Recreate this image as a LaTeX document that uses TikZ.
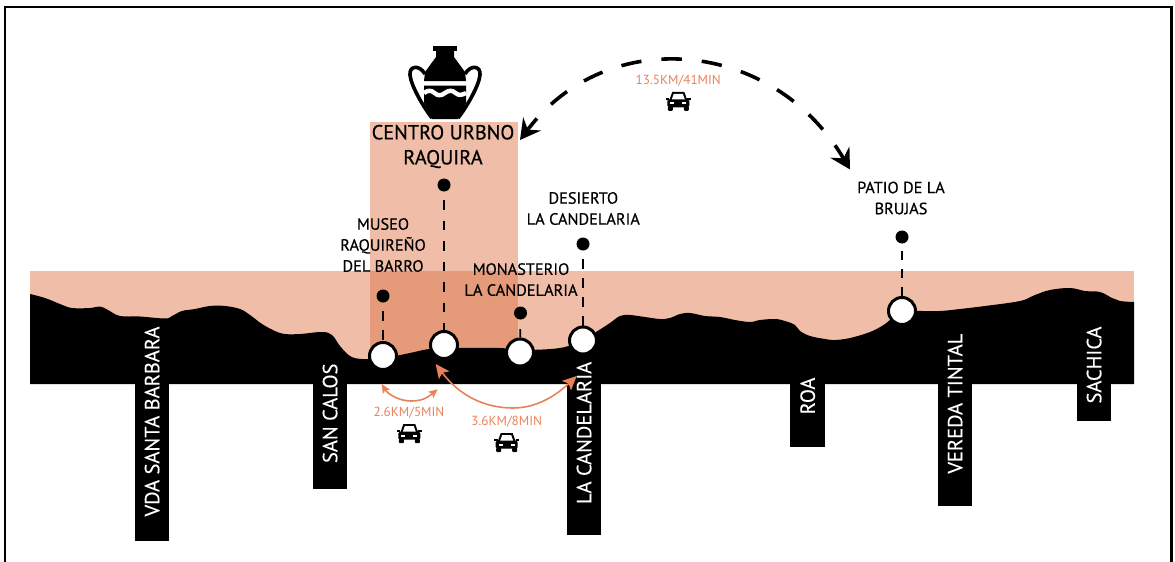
\documentclass[tikz,border=0pt]{standalone}
\usepackage{fontspec}
\setmainfont{PT Sans}
\newfontfamily\heavyfont[FakeBold=0.5]{PT Sans}
\newfontfamily\mediumfont[FakeBold=0.25]{PT Sans}
\usepackage{tikz}
\usetikzlibrary{arrows.meta}
\definecolor{lightsalmon}{RGB}{239,189,168}
\definecolor{darksalmon}{RGB}{229,154,122}
\definecolor{routeorange}{RGB}{232,130,90}
\tikzstyle{stop}=[circle, draw=black, line width=3pt, fill=white, minimum size=27pt, inner sep=0pt]
\tikzstyle{site}=[circle, fill=black, minimum size=13pt, inner sep=0pt]
\tikzstyle{drop}=[line width=1.7pt, dash pattern=on 9.5pt off 9.5pt, dash phase=10.5pt]
\tikzstyle{place}=[align=center, inner sep=0pt, font=\heavyfont\fontsize{16.3}{21}\selectfont]
\tikzstyle{village}=[rotate=90, inner sep=0pt, text=white, font=\mediumfont\fontsize{20.5}{20}\selectfont]
\tikzstyle{timing}=[inner sep=0pt, text=routeorange, font=\fontsize{13.2}{14}\selectfont]
\tikzstyle{route}=[line width=1.6pt, color=routeorange]
\tikzset{
	car/.pic={
		\fill (-9,-1) -- (-6,-9.5) -- (6,-9.5) -- (9,-1) -- cycle;
		\fill[rounded corners=1.5pt] (-11,-2) rectangle (11,6);
		\fill (-12.5,-3.5) rectangle (-9,-1.5);
		\fill (9,-3.5) rectangle (12.5,-1.5);
		\fill[rounded corners=1pt] (-10.5,5) rectangle (-5.5,9.5);
		\fill[rounded corners=1pt] (5.5,5) rectangle (10.5,9.5);
		\fill[white] (-6.5,-2) -- (-4.5,-7.5) -- (4.5,-7.5) -- (6.5,-2) -- cycle;
		\fill[white] (-8,1) rectangle (-4,3);
		\fill[white] (4,1) rectangle (8,3);
	}
}
\begin{document}
\begin{tikzpicture}[x=1pt, y=-1pt]
	\useasboundingbox (0,0) rectangle (1175,562);
	% outer frame, open at the bottom
	\draw[line width=2.6pt] (5,562) -- (5,7) -- (1171.5,7) -- (1171.5,562);
	% salmon column and band
	\fill[lightsalmon] (370,122) rectangle (518,271);
	\fill[lightsalmon] (30,271) rectangle (1134,360);
	\fill[darksalmon] (370,271) rectangle (518,365);
	% black ridge
	\fill[black] plot[smooth, tension=.6] coordinates {
		(30,294) (45,298) (60,304) (72,308) (90,308) (100,306.5) (108,310) (120,316)
		(140,316.5) (165,318.5) (172,316) (182,311) (195,309) (210,306) (225,306)
		(240,309) (250,315) (262,324) (275,331) (285,334) (300,334) (322,332) (332,335)
		(340,346) (350,356) (362,359) (384,358) (410,353) (430,349) (460,348) (500,348)
		(520,350) (560,348) (583,340) (596,332) (610,323) (620,316) (630,315) (645,317)
		(660,319) (670,318) (680,314) (690,313) (705,316) (720,317) (735,320) (750,322)
		(760,320) (775,319) (785,321) (795,325) (800,331) (810,336) (825,339) (835,340)
		(850,338) (870,332) (885,324) (900,312) (915,311) (940,311) (960,309) (985,306)
		(1020,301) (1035,295) (1050,290) (1070,288) (1085,291) (1100,292) (1112,298)
		(1120,301) (1134,302)
	} -- (1134,384) -- (30,384) -- cycle;
	% hanging bars, using a loop
	\foreach \x/\y/\ty/\name in {134.7/540.7/421.5/VDA SANTA BARBARA, 312.7/488.7/413.3/SAN CALOS,
		566.7/535/433/LA CANDELARIA, 790.3/446.7/396/ROA,
		937.7/506/403.7/VEREDA TINTAL, 1076.7/420.7/365/SACHICA}{
		\fill[black] (\x,380) rectangle (\x + 34.7,\y);
		\node[village] at (\x + 17.4,\ty) {\name};
	}
	% the jar
	\fill (433,46) rectangle (457,51);
	\fill (436,51) -- (454,51) -- (454,57) -- (465,72) -- (466,81) -- (424,81) -- (425,72) -- (436,57) -- cycle;
	\fill (424,85.5) -- (466,85.5) -- (466,103) -- (458,119) -- (432,119) -- (424,103) -- cycle;
	\draw[line width=3.6pt] (425,74) .. controls (419,64) and (409,66) .. (410,75)
		.. controls (411,86) and (424,108) .. (432,118);
	\draw[line width=3.6pt] (465,74) .. controls (471,64) and (481,66) .. (480,75)
		.. controls (479,86) and (466,108) .. (458,118);
	\draw[white, line width=4.4pt] (424,93) .. controls (428,90) and (431,90) .. (434.5,93)
		.. controls (438,96) and (441,96) .. (445,93) .. controls (449,90) and (452,90) .. (455.5,93)
		.. controls (459,96) and (462,95) .. (466,93);
	% stops on the ridge
	\node[stop] (stopmuseo) at (383,356) {};
	\node[stop] (stopcentro) at (444,345) {};
	\node[stop] (stopmonasterio) at (520,352.5) {};
	\node[stop] (stopdesierto) at (583,340.5) {};
	\node[stop] (stoppatio) at (902,311) {};
	% sites above them
	\node[site] (sitemuseo) at (383,296) {};
	\node[site] (sitecentro) at (444,185) {};
	\node[site] (sitemonasterio) at (520.5,313) {};
	\node[site] (sitedesierto) at (583,244) {};
	\node[site] (sitepatio) at (902,237) {};
	\draw[drop] (sitemuseo) -- (stopmuseo);
	\draw[drop, dash pattern=on 9.5pt off 11pt, dash phase=12pt] (sitecentro) -- (stopcentro);
	\draw[drop, dash pattern=on 20pt off 9.5pt, dash phase=20pt] (sitemonasterio) -- (stopmonasterio);
	\draw[drop] (sitedesierto) -- (stopdesierto);
	\draw[drop, dash pattern=on 9pt off 9pt] (sitepatio) -- (stoppatio);
	% labels
	\node[place, font=\heavyfont\fontsize{20.3}{25}\selectfont] (labelcentro) at (443,146.5) {CENTRO URBNO\\RAQUIRA};
	\node[place] (labelmuseo) at (383,245) {MUSEO\\RAQUIREÑO\\DEL BARRO};
	\node[place] (labelmonasterio) at (521,279.6) {MONASTERIO\\LA CANDELARIA};
	\node[place] (labeldesierto) at (583.3,208.5) {DESIERTO\\LA CANDELARIA};
	\node[place] (labelpatio) at (901,198) {PATIO DE LA\\BRUJAS};
	% long black route
	\coordinate (arcleft) at (520,140);
	\coordinate (arcright) at (850,169.5);
	\draw[line width=3.6pt, dash pattern=on 20.5pt off 20pt, dash phase=5pt,
		{Stealth[length=20pt, width=22pt, inset=7pt]}-{Stealth[length=20pt, width=22pt, inset=7pt]}]
		(arcleft) .. controls +(87,-116) and +(-77,-131) .. (arcright);
	% short orange routes
	\coordinate (shortleft) at (381.7,384);
	\coordinate (shortdip) at (411,401);
	\coordinate (shortright) at (437.7,389.3);
	\draw[route, {Stealth[length=9pt, width=8pt, inset=2pt]}-{Stealth[length=9pt, width=8pt, inset=2pt]}]
		(shortleft) .. controls +(6,10) and +(-12,0) .. (shortdip) .. controls +(12,0) and +(-10,8) .. (shortright);
	\coordinate (longleft) at (435.7,364);
	\coordinate (longdip) at (513,408);
	\coordinate (longright) at (576.7,376);
	\draw[route, {Stealth[length=14pt, width=13pt, inset=3pt]}-{Stealth[length=14pt, width=13pt, inset=3pt]}]
		(longleft) .. controls +(24,32) and +(-28,0) .. (longdip) .. controls +(27,0) and +(-17,16) .. (longright);
	% times and cars
	\node[timing] (timeshort) at (409,413) {2.6KM/5MIN};
	\node[timing] (timelong) at (506.7,421.7) {3.6KM/8MIN};
	\node[timing] (timearc) at (678.3,80.7) {13.5KM/41MIN};
	\pic at (409.3,433.7) {car};
	\pic at (506.7,442.7) {car};
	\pic at (678.3,101.3) {car};
\end{tikzpicture}
\end{document}
